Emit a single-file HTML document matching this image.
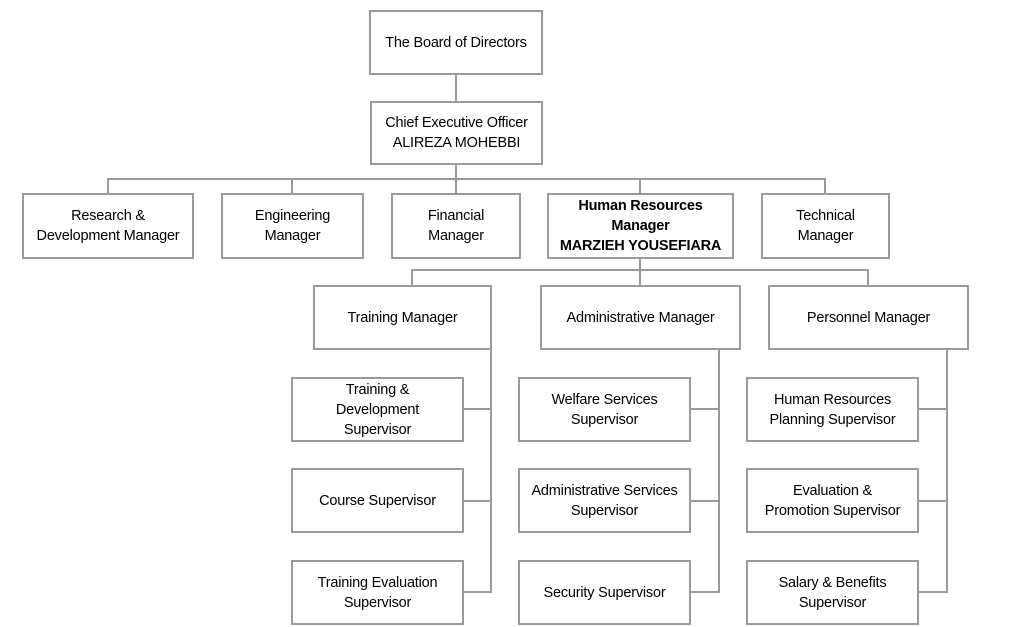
<!DOCTYPE html>
<html><head><style>
body{margin:0;width:1024px;height:627px;background:#fff;position:relative;overflow:hidden;font-family:"Liberation Sans",sans-serif;}
.b{position:absolute;box-sizing:border-box;border:2px solid #9a9a9a;background:#fff;display:flex;align-items:center;justify-content:center;text-align:center;font-size:14.5px;letter-spacing:-0.2px;line-height:20px;color:#000;}
.l{position:absolute;background:#9a9a9a;}
</style></head><body>
<div class="l" style="left:455px;top:74px;width:2px;height:27px"></div>
<div class="l" style="left:455px;top:164px;width:2px;height:29px"></div>
<div class="l" style="left:107px;top:178px;width:719px;height:2px"></div>
<div class="l" style="left:107px;top:178px;width:2px;height:15px"></div>
<div class="l" style="left:291px;top:178px;width:2px;height:15px"></div>
<div class="l" style="left:639px;top:178px;width:2px;height:15px"></div>
<div class="l" style="left:824px;top:178px;width:2px;height:15px"></div>
<div class="l" style="left:639px;top:258px;width:2px;height:12px"></div>
<div class="l" style="left:411px;top:269px;width:458px;height:2px"></div>
<div class="l" style="left:411px;top:269px;width:2px;height:16px"></div>
<div class="l" style="left:639px;top:269px;width:2px;height:16px"></div>
<div class="l" style="left:867px;top:269px;width:2px;height:16px"></div>
<div class="l" style="left:490px;top:349px;width:2px;height:244px"></div>
<div class="l" style="left:463px;top:408px;width:28px;height:2px"></div>
<div class="l" style="left:463px;top:500px;width:28px;height:2px"></div>
<div class="l" style="left:463px;top:591px;width:28px;height:2px"></div>
<div class="l" style="left:718px;top:349px;width:2px;height:244px"></div>
<div class="l" style="left:690px;top:408px;width:29px;height:2px"></div>
<div class="l" style="left:690px;top:500px;width:29px;height:2px"></div>
<div class="l" style="left:690px;top:591px;width:29px;height:2px"></div>
<div class="l" style="left:946px;top:349px;width:2px;height:244px"></div>
<div class="l" style="left:918px;top:408px;width:29px;height:2px"></div>
<div class="l" style="left:918px;top:500px;width:29px;height:2px"></div>
<div class="l" style="left:918px;top:591px;width:29px;height:2px"></div>
<div class="b" style="left:369px;top:10px;width:174px;height:65px">The Board of Directors</div>
<div class="b" style="left:370px;top:101px;width:173px;height:64px">Chief Executive Officer<br>ALIREZA MOHEBBI</div>
<div class="b" style="left:22px;top:193px;width:172px;height:66px">Research &amp;<br>Development Manager</div>
<div class="b" style="left:221px;top:193px;width:143px;height:66px">Engineering<br>Manager</div>
<div class="b" style="left:391px;top:193px;width:130px;height:66px">Financial<br>Manager</div>
<div class="b" style="left:547px;top:193px;width:187px;height:66px;font-weight:bold;line-height:20px">Human Resources<br>Manager<br>MARZIEH YOUSEFIARA</div>
<div class="b" style="left:761px;top:193px;width:129px;height:66px">Technical<br>Manager</div>
<div class="b" style="left:313px;top:285px;width:179px;height:65px">Training Manager</div>
<div class="b" style="left:540px;top:285px;width:201px;height:65px">Administrative Manager</div>
<div class="b" style="left:768px;top:285px;width:201px;height:65px">Personnel Manager</div>
<div class="b" style="left:291px;top:377px;width:173px;height:65px">Training &amp;<br>Development<br>Supervisor</div>
<div class="b" style="left:291px;top:468px;width:173px;height:65px">Course Supervisor</div>
<div class="b" style="left:291px;top:560px;width:173px;height:65px">Training Evaluation<br>Supervisor</div>
<div class="b" style="left:518px;top:377px;width:173px;height:65px">Welfare Services<br>Supervisor</div>
<div class="b" style="left:518px;top:468px;width:173px;height:65px">Administrative Services<br>Supervisor</div>
<div class="b" style="left:518px;top:560px;width:173px;height:65px">Security Supervisor</div>
<div class="b" style="left:746px;top:377px;width:173px;height:65px">Human Resources<br>Planning Supervisor</div>
<div class="b" style="left:746px;top:468px;width:173px;height:65px">Evaluation &amp;<br>Promotion Supervisor</div>
<div class="b" style="left:746px;top:560px;width:173px;height:65px">Salary &amp; Benefits<br>Supervisor</div>
</body></html>
